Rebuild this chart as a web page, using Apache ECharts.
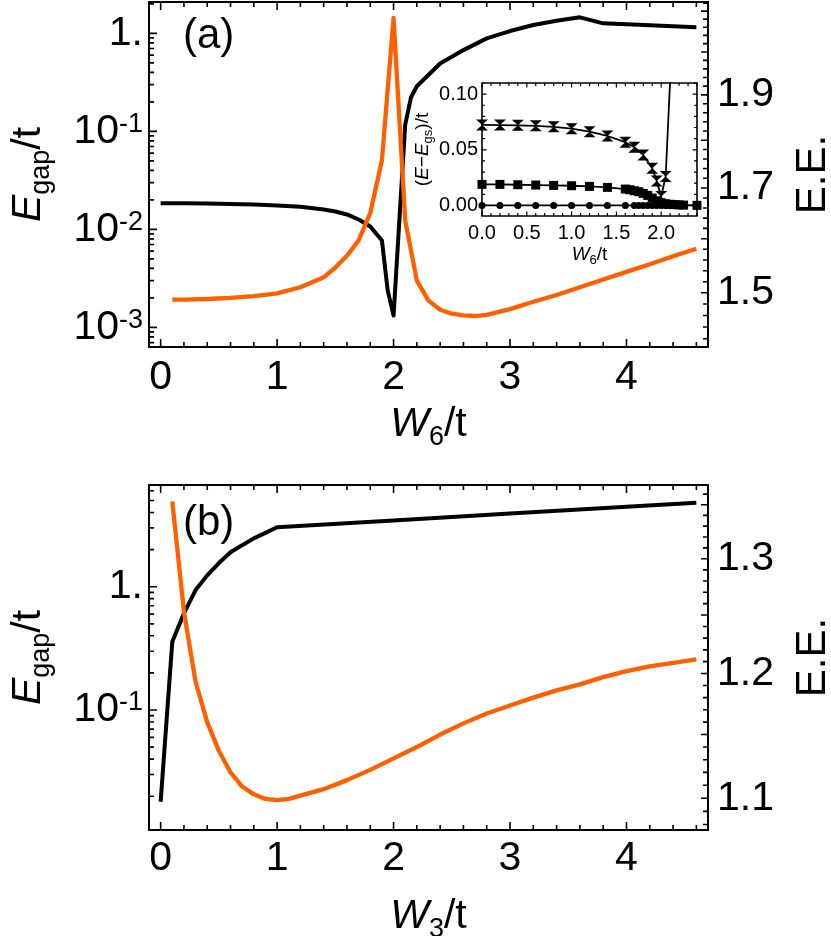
<!DOCTYPE html>
<html><head><meta charset="utf-8">
<script src="https://cdn.jsdelivr.net/npm/echarts@6/dist/echarts.min.js"></script>
<style>html,body{margin:0;padding:0;background:#fff}#c{width:831px;height:936px}</style>
</head><body><div id="c"></div>
<script>
// ---------------- DATA ----------------
// Panel (a): E_gap/t (black, left log axis) vs W6/t
const aGapW = [0,0.2,0.4,0.6,0.8,1.0,1.2,1.4,1.5,1.6,1.7,1.8,1.9,1.95,2.0,2.1,2.15,2.2,2.4,2.6,2.8,3.0,3.2,3.4,3.6,3.8,4.0,4.2,4.4,4.6];
const aGap  = [0.01853,0.0185,0.0184,0.0182,0.01795,0.01754,0.01706,0.01596,0.01524,0.0142,0.01262,0.01071,0.00771,0.00237,0.00132,0.117,0.223,0.289,0.493,0.675,0.889,1.056,1.216,1.345,1.457,1.265,1.236,1.207,1.179,1.152];
// Panel (a): E.E. (orange, right log axis) vs W6/t
const aEEW = [0.1,0.2,0.4,0.6,0.8,1.0,1.2,1.4,1.5,1.6,1.7,1.8,1.9,2.0,2.1,2.2,2.3,2.4,2.5,2.6,2.7,2.8,3.0,3.2,3.4,3.6,3.8,4.0,4.2,4.4,4.6];
const aEE  = [1.488,1.488,1.489,1.491,1.494,1.499,1.510,1.528,1.546,1.568,1.597,1.650,1.757,2.083,1.635,1.522,1.486,1.470,1.463,1.460,1.459,1.461,1.471,1.484,1.496,1.510,1.524,1.538,1.552,1.567,1.581];
// Inset: (E-E_gs)/t vs W6/t
const inCircW = [0,0.2,0.4,0.6,0.8,1.0,1.2,1.4,1.6,1.7,1.75,1.8,1.85,1.9,1.95,2.0,2.05,2.1,2.15,2.2,2.25,2.4];
const inCirc  = [0,0,0,0,0,0,0,0,0,0,0,0,0,0,0,0,0,0,0,0,0,0];
const inSqW = [0,0.2,0.4,0.6,0.8,1.0,1.2,1.4,1.6,1.65,1.7,1.75,1.8,1.85,1.9,1.95,2.0,2.05,2.1,2.15,2.2,2.25,2.4];
const inSq  = [0.0189,0.0189,0.0186,0.0183,0.0180,0.0177,0.0171,0.0162,0.0147,0.0141,0.0132,0.0123,0.0108,0.0090,0.0066,0.0042,0.0024,0.0015,0.0010,0.0007,0.0005,0.0003,0.0001];
const inHgW = [0,0.2,0.4,0.6,0.8,1.0,1.2,1.4,1.6,1.7,1.8,1.9,1.95,2.0,2.05,2.1];
const inHg  = [0.0723,0.0722,0.0720,0.0715,0.0706,0.0690,0.0663,0.0624,0.0568,0.0523,0.0454,0.0334,0.0220,0.0080,0.0260,0.1120];
// Panel (b): E_gap/t (black, left log axis) vs W3/t
const bGapW = [0,0.1,0.2,0.3,0.4,0.5,0.6,0.7,0.8,0.9,1.0,2.0,3.0,4.0,4.6];
const bGap  = [0.01803,0.358,0.608,0.940,1.236,1.556,1.901,2.173,2.466,2.735,3.034,3.443,3.917,4.446,4.797];
// Panel (b): E.E. (orange, right log axis) vs W3/t
const bEEW = [0.1,0.2,0.3,0.4,0.5,0.6,0.7,0.8,0.9,1.0,1.1,1.2,1.4,1.6,1.8,2.0,2.2,2.4,2.6,2.8,3.0,3.2,3.4,3.6,3.8,4.0,4.2,4.4,4.6];
const bEE  = [1.353,1.253,1.193,1.160,1.137,1.120,1.109,1.103,1.0995,1.0985,1.0995,1.102,1.107,1.114,1.122,1.131,1.140,1.150,1.159,1.167,1.1735,1.180,1.186,1.191,1.197,1.202,1.206,1.209,1.212];

// Tick labels
const xTickLabels = [0,1,2,3,4];
const aLeftDecades = [-3,-2,-1,0];
const aRightTicks = [1.5,1.7,1.9];
const inXTicks = [0,0.5,1.0,1.5,2.0];
const inYTicks = [0,0.05,0.10];
const bLeftDecades = [-1,0];
const bRightTicks = [1.1,1.2,1.3];

// ---------------- STYLE / HELPERS ----------------
const FONT = '"Liberation Sans", Arial, sans-serif';
const ORANGE = '#ff5f00';
const L = Math.log10;

function stepVals(a, b, step, skipStep) {
  const out = [];
  const n0 = Math.ceil(a / step - 1e-9), n1 = Math.floor(b / step + 1e-9);
  for (let i = n0; i <= n1; i++) {
    const v = +(i * step).toFixed(6);
    if (skipStep && Math.abs(v / skipStep - Math.round(v / skipStep)) < 1e-6) continue;
    out.push(v);
  }
  return out;
}
function logMinor(lo, hi) {
  const out = [];
  for (let n = -5; n <= 2; n++) for (let k = 2; k <= 9; k++) {
    const v = n + L(k); if (v >= lo && v <= hi) out.push(v);
  }
  return out;
}
function inRange(vals, r) { return vals.filter(v => v >= r[0] - 1e-9 && v <= r[1] + 1e-9); }
function axis(base) {
  return Object.assign({
    type: 'value',
    axisLine: {show: false, onZero: false},
    axisTick: {show: false},
    axisLabel: {show: false},
    splitLine: {show: false}, minorTick: {show: false}, minorSplitLine: {show: false}
  }, base);
}

const big = 41, sub = 27;
const richBig = {
  i: {fontFamily: FONT, fontStyle: 'italic', fontSize: big, lineHeight: big, verticalAlign: 'top', color: '#000'},
  n: {fontFamily: FONT, fontSize: big, lineHeight: big, verticalAlign: 'top', color: '#000'},
  s: {fontFamily: FONT, fontSize: sub, lineHeight: sub, verticalAlign: 'top', padding: [20, 0, 0, 0], color: '#000'},
  b: {fontFamily: FONT, fontSize: big, lineHeight: big, verticalAlign: 'top', color: '#000'},
  p: {fontFamily: FONT, fontSize: sub, lineHeight: sub, verticalAlign: 'top', color: '#000'}
};
const richSmall = {
  i: {fontFamily: FONT, fontStyle: 'italic', fontSize: 19, lineHeight: 19, verticalAlign: 'top', color: '#000'},
  n: {fontFamily: FONT, fontSize: 19, lineHeight: 19, verticalAlign: 'top', color: '#000'},
  s: {fontFamily: FONT, fontSize: 13, lineHeight: 13, verticalAlign: 'top', padding: [9, 0, 0, 0], color: '#000'}
};
const logLabel = v => { const e = Math.round(v); return e === 0 ? '{b|1.}' : '{b|10}{p|' + e + '}'; };

// ---------------- LAYOUT ----------------
const GRIDS = [
  {left: 149, top: 2, width: 559, height: 345},
  {left: 482, top: 83, width: 215, height: 133},
  {left: 149, top: 485, width: 559, height: 345}
];
const A_X = [-0.1, 4.7], A_L = [-3.2, 0.32], A_R = [L(1.406), L(2.123)];
const I_X = [0, 2.4], I_Y = [-0.0095, 0.110];
const B_X = [-0.1, 4.7], B_L = [-1.973, 0.825], B_R = [L(1.0759), L(1.3687)];

const xAxes = [
  axis({gridIndex: 0, position: 'bottom', min: A_X[0], max: A_X[1],
    name: '{i|W}{s|6}{n|/t}', nameLocation: 'middle', nameGap: 57,
    nameTextStyle: {fontFamily: FONT, fontSize: big, color: '#000', rich: richBig},
    axisLabel: {show: true, customValues: xTickLabels, formatter: v => String(Math.round(v)), fontFamily: FONT, fontSize: big, color: '#000', margin: 10}}),
  axis({gridIndex: 1, position: 'bottom', min: I_X[0], max: I_X[1],
    name: '{i|W}{s|6}{n|/t}', nameLocation: 'middle', nameGap: 29,
    nameTextStyle: {fontFamily: FONT, fontSize: 19, color: '#000', rich: richSmall},
    axisLabel: {show: true, customValues: inXTicks, formatter: v => v.toFixed(1), fontFamily: FONT, fontSize: 20, color: '#000', margin: 7}}),
  axis({gridIndex: 2, position: 'bottom', min: B_X[0], max: B_X[1],
    name: '{i|W}{s|3}{n|/t}', nameLocation: 'middle', nameGap: 66,
    nameTextStyle: {fontFamily: FONT, fontSize: big, color: '#000', rich: richBig},
    axisLabel: {show: true, customValues: xTickLabels, formatter: v => String(Math.round(v)), fontFamily: FONT, fontSize: big, color: '#000', margin: 8}})
];
const yAxes = [
  axis({gridIndex: 0, position: 'left', min: A_L[0], max: A_L[1],
    name: '{i|E}{s|gap}{n|/t}', nameLocation: 'middle', nameRotate: 90, nameGap: 100,
    nameTextStyle: {fontFamily: FONT, fontSize: big, color: '#000', rich: richBig},
    axisLabel: {show: true, customValues: aLeftDecades, formatter: logLabel, fontFamily: FONT, fontSize: big, color: '#000', margin: 6, rich: richBig}}),
  axis({gridIndex: 0, position: 'right', min: A_R[0], max: A_R[1],
    name: 'E.E.', nameLocation: 'middle', nameRotate: 90, nameGap: 84,
    nameTextStyle: {fontFamily: FONT, fontSize: 42, color: '#000'},
    axisLabel: {show: true, customValues: aRightTicks.map(L), formatter: v => Math.pow(10, v).toFixed(1), fontFamily: FONT, fontSize: big, color: '#000', margin: 9}}),
  axis({gridIndex: 1, position: 'left', min: I_Y[0], max: I_Y[1],
    name: '{n|(}{i|E}{n|\u2212}{i|E}{s|gs}{n|)/t}', nameLocation: 'middle', nameRotate: 90, nameGap: 46,
    nameTextStyle: {fontFamily: FONT, fontSize: 19, color: '#000', rich: richSmall},
    axisLabel: {show: true, customValues: inYTicks, formatter: v => v.toFixed(2), fontFamily: FONT, fontSize: 20, color: '#000', margin: 4}}),
  axis({gridIndex: 2, position: 'left', min: B_L[0], max: B_L[1],
    name: '{i|E}{s|gap}{n|/t}', nameLocation: 'middle', nameRotate: 90, nameGap: 100,
    nameTextStyle: {fontFamily: FONT, fontSize: big, color: '#000', rich: richBig},
    axisLabel: {show: true, customValues: bLeftDecades, formatter: logLabel, fontFamily: FONT, fontSize: big, color: '#000', margin: 6, rich: richBig}}),
  axis({gridIndex: 2, position: 'right', min: B_R[0], max: B_R[1],
    name: 'E.E.', nameLocation: 'middle', nameRotate: 90, nameGap: 84,
    nameTextStyle: {fontFamily: FONT, fontSize: 42, color: '#000'},
    axisLabel: {show: true, customValues: bRightTicks.map(L), formatter: v => Math.pow(10, v).toFixed(1), fontFamily: FONT, fontSize: big, color: '#000', margin: 9}})
];
const axisGrid = {x: [0, 1, 2], y: [0, 0, 1, 2, 2]};
const xRanges = [A_X, I_X, B_X];
const yRanges = [A_L, A_R, I_Y, B_L, B_R];

// ---------------- SERIES ----------------
function line(xs, ys, xi, yi, color, tf, width) {
  return {type: 'line', xAxisIndex: xi, yAxisIndex: yi, data: xs.map((x, i) => [x, tf ? tf(ys[i]) : ys[i]]),
    showSymbol: false, symbol: 'none', clip: true, animation: false, silent: true,
    lineStyle: {color: color, width: width, join: 'round'}, itemStyle: {color: color}};
}
function marked(xs, ys, symbol, size) {
  return {type: 'line', xAxisIndex: 1, yAxisIndex: 2, data: xs.map((x, i) => [x, ys[i]]),
    symbol: symbol, symbolSize: size, showSymbol: true, showAllSymbol: true, clip: true, animation: false, silent: true,
    lineStyle: {color: '#000', width: 1.8}, itemStyle: {color: '#000', borderWidth: 0}};
}

// Tick marks drawn as short segments on the axes' own scales (length converted from pixels)
function tickSeries(xi, yi, side, vals, lenPx, w) {
  const xr = xRanges[xi], yr = yRanges[yi], g = GRIDS[axisGrid.x[xi]];
  const dx = lenPx * (xr[1] - xr[0]) / g.width, dy = lenPx * (yr[1] - yr[0]) / g.height;
  const data = [];
  vals.forEach(v => {
    let p1, p2;
    if (side === 'bottom') { p1 = [v, yr[0]]; p2 = [v, yr[0] + dy]; }
    else if (side === 'top') { p1 = [v, yr[1]]; p2 = [v, yr[1] - dy]; }
    else if (side === 'left') { p1 = [xr[0], v]; p2 = [xr[0] + dx, v]; }
    else { p1 = [xr[1], v]; p2 = [xr[1] - dx, v]; }
    data.push(p1, p2, '-');
  });
  return {type: 'line', xAxisIndex: xi, yAxisIndex: yi, data: data, connectNulls: false,
    symbol: 'none', showSymbol: false, clip: false, animation: false, silent: true, z: 10,
    lineStyle: {color: '#000', width: w, cap: 'butt'}, itemStyle: {color: '#000'}};
}
const ticks = [];
const xMinor = stepVals(0, 4.6, 0.2, 1);
['bottom', 'top'].forEach(s => { ticks.push(tickSeries(0, 0, s, xTickLabels, 8, 1.6), tickSeries(0, 0, s, xMinor, 5, 1.6)); });
ticks.push(tickSeries(0, 0, 'left', aLeftDecades, 8, 1.6));
ticks.push(tickSeries(0, 0, 'left', inRange(logMinor(A_L[0], A_L[1]), A_L), 5, 1.6));
ticks.push(tickSeries(0, 1, 'right', inRange(stepVals(1.4, 2.1, 0.1).map(L), A_R), 7, 1.6));
ticks.push(tickSeries(0, 1, 'right', inRange(stepVals(1.40, 2.12, 0.02, 0.1).map(L), A_R), 5, 1.6));
['bottom', 'top'].forEach(s => { ticks.push(tickSeries(1, 2, s, inXTicks, 4.5, 1.2), tickSeries(1, 2, s, stepVals(0, 2.4, 0.1, 0.5), 3, 1.2)); });
['left', 'right'].forEach(s => { ticks.push(tickSeries(1, 2, s, inYTicks, 4.5, 1.2), tickSeries(1, 2, s, inRange(stepVals(-0.009, 0.11, 0.01, 0.05), I_Y), 3, 1.2)); });
['bottom', 'top'].forEach(s => { ticks.push(tickSeries(2, 3, s, xTickLabels, 8, 1.6), tickSeries(2, 3, s, xMinor, 5, 1.6)); });
ticks.push(tickSeries(2, 3, 'left', bLeftDecades, 8, 1.6));
ticks.push(tickSeries(2, 3, 'left', inRange(logMinor(B_L[0], B_L[1]), B_L), 5, 1.6));
ticks.push(tickSeries(2, 4, 'right', inRange(stepVals(1.05, 1.35, 0.05).map(L), B_R), 7, 1.6));
ticks.push(tickSeries(2, 4, 'right', inRange(stepVals(1.07, 1.36, 0.01, 0.05).map(L), B_R), 5, 1.6));

const option = {
  animation: false,
  grid: [
    Object.assign({show: true, borderColor: '#000', borderWidth: 2, backgroundColor: 'transparent', containLabel: false, outerBoundsMode: 'none'}, GRIDS[0]),
    Object.assign({show: true, borderColor: '#000', borderWidth: 1.6, backgroundColor: '#fff', containLabel: false, outerBoundsMode: 'none'}, GRIDS[1]),
    Object.assign({show: true, borderColor: '#000', borderWidth: 2, backgroundColor: 'transparent', containLabel: false, outerBoundsMode: 'none'}, GRIDS[2])
  ],
  xAxis: xAxes,
  yAxis: yAxes,
  series: [
    line(aGapW, aGap, 0, 0, '#000', L, 4),
    line(aEEW, aEE, 0, 1, ORANGE, L, 4.3),
    marked(inCircW, inCirc, 'circle', 7),
    marked(inSqW, inSq, 'rect', 9),
    marked(inHgW, inHg, 'path://M0,0L10,0L5,5L10,10L0,10L5,5Z', [12, 11]),
    line(bGapW, bGap, 2, 3, '#000', L, 4),
    line(bEEW, bEE, 2, 4, ORANGE, L, 4.3)
  ].concat(ticks),
  graphic: [
    {type: 'text', left: 183, top: 15, z: 100, style: {text: '(a)', font: '42px "Liberation Sans", Arial, sans-serif', fill: '#000'}},
    {type: 'text', left: 183, top: 502, z: 100, style: {text: '(b)', font: '42px "Liberation Sans", Arial, sans-serif', fill: '#000'}}
  ]
};
const chart = echarts.init(document.getElementById('c'));
chart.setOption(option);
</script>
</body></html>
